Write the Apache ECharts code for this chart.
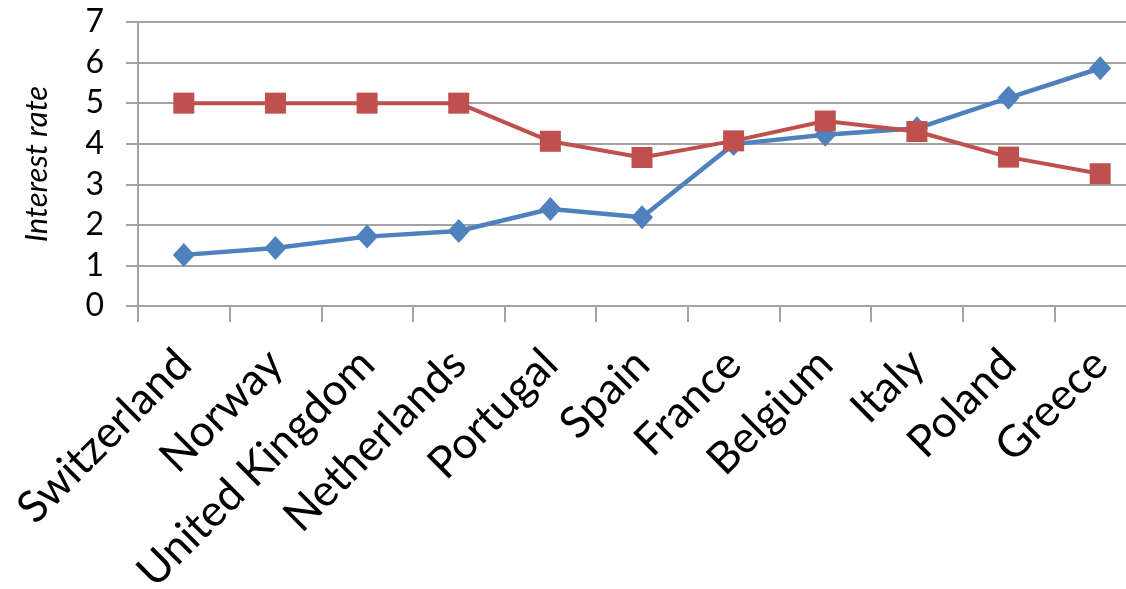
<!DOCTYPE html>
<html>
<head>
<meta charset="utf-8">
<script src="https://cdn.jsdelivr.net/npm/echarts@6/dist/echarts.min.js"></script>
<style>
  html, body { margin: 0; padding: 0; background: #ffffff; }
  #chart { width: 1126px; height: 589px; }
</style>
</head>
<body>
<div id="chart"></div>
<script>
// Countries along the category axis
const countries = ['Switzerland', 'Norway', 'United Kingdom', 'Netherlands', 'Portugal',
  'Spain', 'France', 'Belgium', 'Italy', 'Poland', 'Greece'];

// Blue series (diamond markers)
const blueRates = [1.26, 1.43, 1.71, 1.85, 2.39, 2.19, 3.99, 4.22, 4.38, 5.13, 5.86];

// Red series (square markers)
const redRates = [5.0, 5.0, 5.0, 5.0, 4.06, 3.66, 4.07, 4.56, 4.30, 3.67, 3.26];

// Value axis range
const yMin = 0, yMax = 7, yStep = 1;
const yTitle = 'Interest rate';

const chart = echarts.init(document.getElementById('chart'), null, { renderer: 'canvas' });

const gridGray = '#a3a3a3';
const fontFamily = 'Lato, "Open Sans", sans-serif';

chart.setOption({
  animation: false,
  backgroundColor: '#ffffff',
  // plot area runs slightly past the right edge of the canvas
  grid: {
    left: 138, width: 1008, top: 22, bottom: 283,
    containLabel: false,
    outerBoundsMode: 'none'
  },
  xAxis: {
    type: 'category',
    data: countries,
    boundaryGap: true,
    axisLine: { show: true, lineStyle: { color: gridGray, width: 2 } },
    axisTick: { show: true, length: 16, lineStyle: { color: gridGray, width: 2 } },
    axisLabel: {
      rotate: 45,
      interval: 0,
      margin: 51,
      color: '#000000',
      fontFamily: fontFamily,
      fontSize: 44
    },
    splitLine: { show: false }
  },
  yAxis: {
    type: 'value',
    min: yMin,
    max: yMax,
    interval: yStep,
    name: yTitle,
    nameLocation: 'middle',
    nameGap: 86,
    nameTextStyle: {
      color: '#000000',
      fontFamily: fontFamily,
      fontStyle: 'italic',
      fontSize: 31
    },
    axisLine: { show: true, lineStyle: { color: gridGray, width: 2 } },
    axisTick: { show: true, length: 12, lineStyle: { color: gridGray, width: 2 } },
    axisLabel: {
      margin: 34,
      color: '#000000',
      fontFamily: fontFamily,
      fontSize: 32
    },
    splitLine: { show: true, lineStyle: { color: gridGray, width: 2 } }
  },
  series: [
    {
      name: 'Blue',
      type: 'line',
      data: blueRates,
      symbol: 'diamond',
      symbolSize: [22, 24],
      lineStyle: { color: '#4f81bd', width: 4.5 },
      itemStyle: { color: '#4f81bd' },
      z: 2
    },
    {
      name: 'Red',
      type: 'line',
      data: redRates,
      symbol: 'rect',
      symbolSize: 21,
      lineStyle: { color: '#c0504d', width: 4 },
      itemStyle: { color: '#c0504d' },
      z: 3
    }
  ]
});
</script>
</body>
</html>
